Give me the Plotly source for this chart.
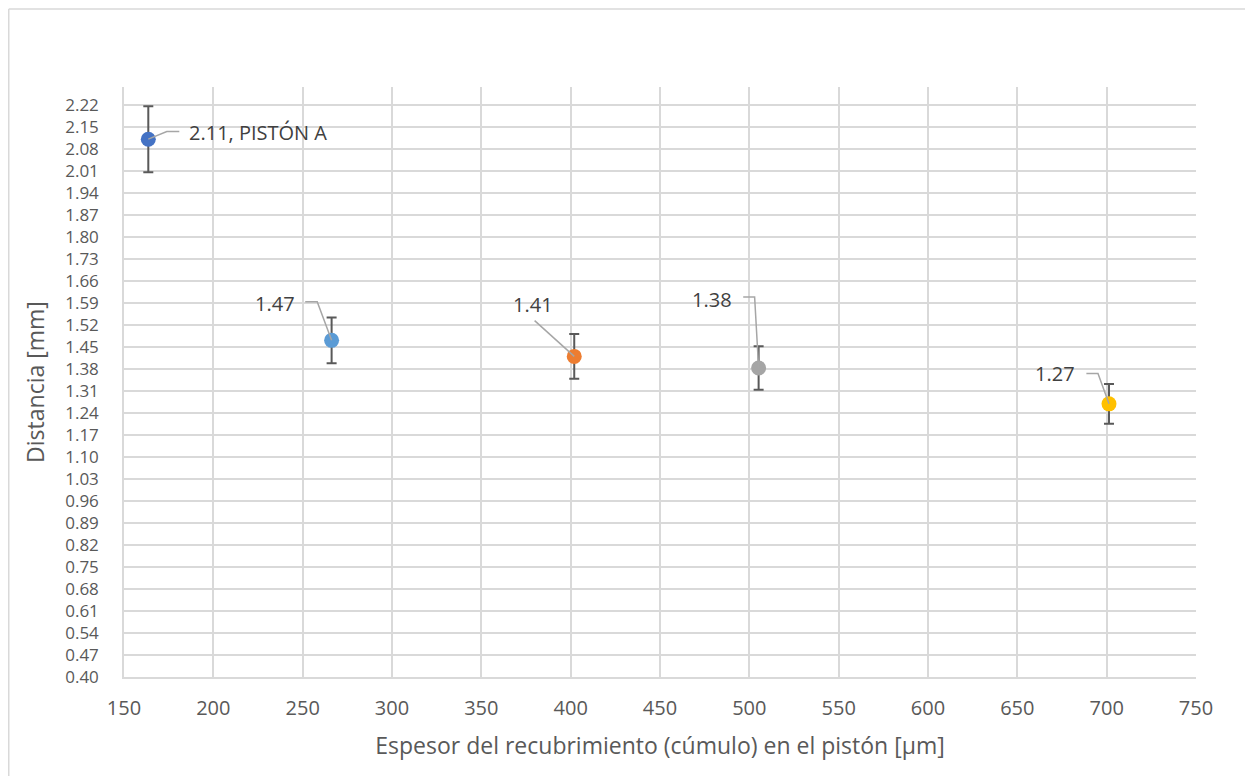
import numpy as np
import plotly.graph_objects as go

# data
espesor = [163.6, 266.2, 402.0, 505.2, 701.3]
distancia = [2.111, 1.471, 1.420, 1.383, 1.269]
error = [0.105, 0.073, 0.071, 0.069, 0.063]
etiquetas = ["2.11, PISTÓN A", "1.47", "1.41", "1.38", "1.27"]
colores = ["#4472C4", "#5B9BD5", "#ED7D31", "#A5A5A5", "#FFC000"]

y_ticks = np.round(np.arange(0.40, 2.2201, 0.07), 2)
x_ticks = list(range(150, 751, 50))

# label placement (pixel offsets from the point) and leader line paths
label_pos = [
    dict(xanchor="left", xshift=39, yshift=7, path="M0,0 L18.5,7.7 L31,7.7"),
    dict(xanchor="right", xshift=-35, yshift=37, path="M0,0 L-14.4,38.6 L-26.4,38.6"),
    dict(xanchor="right", xshift=-19, yshift=52, path="M0,0 L-39.6,35.7"),
    dict(xanchor="right", xshift=-25, yshift=69, path="M0,0 L-4,71 L-15.4,71"),
    dict(xanchor="right", xshift=-32, yshift=30, path="M0,0 L-11,30.3 L-22.6,30.3"),
]

font = "Open Sans"
gris = "#595959"

fig = go.Figure()

for i in range(len(espesor)):
    fig.add_trace(go.Scatter(
        x=[espesor[i]], y=[distancia[i]],
        mode="markers",
        marker=dict(color=colores[i], size=15),
        error_y=dict(type="data", array=[error[i]], color=gris, thickness=2, width=5),
        showlegend=False,
        hoverinfo="x+y",
    ))

for i in range(len(espesor)):
    p = label_pos[i]
    fig.add_shape(
        type="path", xref="x", yref="y",
        xsizemode="pixel", ysizemode="pixel",
        xanchor=espesor[i], yanchor=distancia[i],
        path=p["path"],
        line=dict(color="#A6A6A6", width=1.5),
    )
    fig.add_annotation(
        x=espesor[i], y=distancia[i], text=etiquetas[i],
        showarrow=False, xanchor=p["xanchor"], yanchor="middle",
        xshift=p["xshift"], yshift=p["yshift"],
        font=dict(family=font, size=20, color="#404040"),
    )

# chart border (left and top edges visible)
fig.add_shape(type="line", xref="paper", yref="paper", x0=-0.1075, x1=-0.1075, y0=-0.2, y1=1.1322,
              line=dict(color="#D9D9D9", width=1.5))
fig.add_shape(type="line", xref="paper", yref="paper", x0=-0.1075, x1=1.1, y0=1.1322, y1=1.1322,
              line=dict(color="#D9D9D9", width=1.5))

fig.update_layout(
    width=1245, height=768,
    margin=dict(l=116, r=57, t=79, b=99),
    plot_bgcolor="white", paper_bgcolor="white",
    font=dict(family=font, color=gris),
    xaxis=dict(
        range=[150, 750], tickvals=x_ticks, showgrid=True, gridcolor="#D9D9D9", gridwidth=1.5,
        zeroline=False, showline=True, linecolor="#D9D9D9", linewidth=1.5,
        tickfont=dict(size=20, color=gris), ticklabelstandoff=12,
        title=dict(text="Espesor del recubrimiento (cúmulo) en el pistón [µm]",
                   font=dict(size=23, color=gris), standoff=18),
    ),
    yaxis=dict(
        range=[0.40, 2.277], tickvals=y_ticks, tickformat=".2f",
        showgrid=True, gridcolor="#D9D9D9", gridwidth=1.5,
        zeroline=False, showline=True, linecolor="#D9D9D9", linewidth=1.5,
        tickfont=dict(size=17, color=gris), ticklabelstandoff=20,
        title=dict(text="Distancia [mm]", font=dict(size=23, color=gris), standoff=14),
    ),
)

fig.write_html("out.html")
